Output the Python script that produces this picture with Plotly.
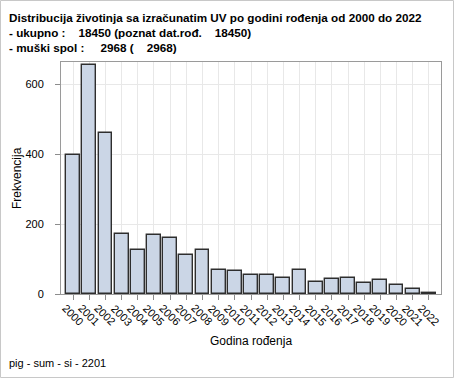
import plotly.graph_objects as go

years = [str(y) for y in range(2000, 2023)]
counts = [397, 654, 460, 172, 125, 170, 159, 111, 125, 70, 67, 55, 53, 47, 69, 33, 43, 47, 31, 39, 25, 15, 2]
y_ticks = [0, 200, 400, 600]

W, H = 454, 378
L, R, T, B = 61, 13, 62, 84
pw, ph = W - L - R, H - T - B

def px(xp):
    return (xp - L) / pw

def py(yp):
    return (H - B - yp) / ph

NB = "\u00a0"
title_lines = [
    "Distribucija životinja sa izračunatim UV po godini rođenja od 2000 do 2022",
    "- ukupno :" + NB * 4 + "18450 (poznat dat.rođ." + NB * 4 + "18450)",
    "- muški spol :" + NB * 5 + "2968 (" + NB * 4 + "2968)",
]

fig = go.Figure()
fig.add_trace(go.Bar(
    x=list(range(len(years))), y=counts, width=0.86,
    marker=dict(color="#cbd6e6", line=dict(color="#2e2e2e", width=1.4)),
))

font = "Liberation Sans, Arial, sans-serif"
annotations = []
for i, t in enumerate(title_lines):
    annotations.append(dict(
        text="<b>" + t + "</b>", xref="paper", yref="paper",
        x=px(7), y=py(9 + i * 15.2), xanchor="left", yanchor="top",
        showarrow=False, font=dict(family=font, size=11.7, color="#000"),
    ))
annotations.append(dict(
    text="pig - sum - si - 2201", xref="paper", yref="paper",
    x=px(7), y=py(355), xanchor="left", yanchor="top",
    showarrow=False, font=dict(family=font, size=11, color="#000"),
))
# x tick labels (rotated, centred under each tick)
for i, yr in enumerate(years):
    annotations.append(dict(
        text=yr, xref="x", yref="paper", x=i, y=py(299),
        xanchor="center", yanchor="top", textangle=45, showarrow=False,
        font=dict(family=font, size=11, color="#000"),
    ))
annotations.append(dict(
    text="Godina rođenja", xref="paper", yref="paper", x=0.5, y=py(341),
    xanchor="center", yanchor="middle", showarrow=False,
    font=dict(family=font, size=12, color="#000"),
))
annotations.append(dict(
    text="Frekvencija", xref="paper", yref="paper", x=px(17), y=0.5,
    xanchor="center", yanchor="middle", textangle=-90, showarrow=False,
    font=dict(family=font, size=12, color="#000"),
))

fig.update_layout(
    width=W, height=H,
    margin=dict(l=L, r=R, t=T, b=B, pad=0),
    paper_bgcolor="white", plot_bgcolor="white",
    showlegend=False,
    font=dict(family=font, size=11, color="#000"),
    annotations=annotations,
    bargap=0,
    shapes=[dict(type="rect", xref="paper", yref="paper",
                 x0=px(0.5), x1=px(W - 0.5), y0=py(H - 0.5), y1=py(0.5),
                 line=dict(color="#c8c8c8", width=1), layer="below")],
)
fig.update_xaxes(
    range=[-0.75, 22.75], tickmode="array",
    tickvals=list(range(len(years))), showticklabels=False,
    ticks="outside", ticklen=5, tickcolor="#8c8c8c",
    showgrid=True, gridcolor="#e8e8e8", gridwidth=1,
    showline=True, linecolor="#9a9a9a", linewidth=1, mirror=True,
    zeroline=False, automargin=False,
)
fig.update_yaxes(
    range=[0, 663], tickvals=y_ticks,
    ticks="outside", ticklen=5, tickcolor="#8c8c8c",
    showgrid=True, gridcolor="#e8e8e8", gridwidth=1,
    showline=True, linecolor="#9a9a9a", linewidth=1, mirror=True,
    zeroline=False, automargin=False, ticklabelstandoff=9,
    tickfont=dict(size=11),
)
fig.write_html(
    "out.html",
    config={"displayModeBar": False},
    post_script="document.body.style.margin='0';document.body.style.padding='0';",
)
